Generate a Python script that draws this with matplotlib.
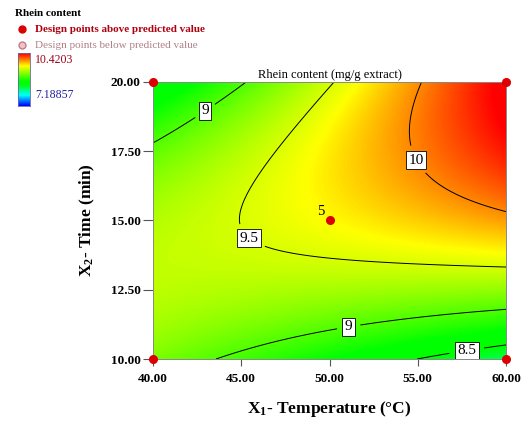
import numpy as np
import matplotlib
matplotlib.use("Agg")
import matplotlib.pyplot as plt
from matplotlib.colors import LinearSegmentedColormap, Normalize

# ---- data ----
temp_range = [40.0, 60.0]
time_range = [10.0, 20.0]
x_ticks = [40.0, 45.0, 50.0, 55.0, 60.0]
y_ticks = [10.0, 12.5, 15.0, 17.5, 20.0]
# quadratic response surface in coded units (A=temp, B=time)
coef_intercept = 9.6436
coef_A = 0.2837
coef_B = 0.3789
coef_AB = 0.7221
coef_A2 = 0.0044
coef_B2 = -0.5483
z_min = 7.18857
z_max = 10.4203
contour_levels = [8.5, 9.0, 9.5, 10.0]
design_temp = [40, 60, 40, 60, 50]
design_time = [20, 20, 10, 10, 15]
center_label = "5"

plt.rcParams['font.family'] = ['Liberation Serif', 'DejaVu Serif']
plt.rcParams['mathtext.fontset'] = 'custom'
plt.rcParams['mathtext.rm'] = 'Liberation Serif'
plt.rcParams['mathtext.bf'] = 'Liberation Serif:bold'

W, H = 528, 425
fig = plt.figure(figsize=(W/100, H/100), dpi=100)
ax = fig.add_axes([153/W, 1-359/H, 353/W, 277/H])

cmap = LinearSegmentedColormap.from_list(
    "dx", [(0, "#0000ff"), (0.2, "#00ffff"), (0.4, "#00ff00"),
           (0.47, "#00ff00"), (0.76, "#ffff00"), (1.0, "#ff0000")])
norm = Normalize(z_min, z_max)

T = np.linspace(temp_range[0], temp_range[1], 300)
t = np.linspace(time_range[0], time_range[1], 300)
TT, tt = np.meshgrid(T, t)
A = (TT - 50.0) / 10.0
B = (tt - 15.0) / 5.0
Z = (coef_intercept + coef_A*A + coef_B*B + coef_AB*A*B
     + coef_A2*A**2 + coef_B2*B**2)

ax.imshow(Z, extent=[temp_range[0], temp_range[1], time_range[0], time_range[1]],
          origin='lower', aspect='auto', cmap=cmap, norm=norm,
          interpolation='bilinear')
cs = ax.contour(TT, tt, Z, levels=contour_levels, colors='k', linewidths=0.7)
manual = [(42.8, 19.1), (55.0, 17.2), (46.0, 14.8), (51.0, 11.5), (57.7, 10.6)]
labels = ax.clabel(cs, fmt='%g', inline=True, fontsize=11, manual=manual,
                   inline_spacing=8)
for lb in labels:
    lb.set_bbox(dict(facecolor='white', edgecolor='black', linewidth=0.6,
                     pad=1.8))
    lb.set_rotation(0)

ax.plot(design_temp, design_time, 'o', color='#dd0000', markersize=5.5,
        clip_on=False, zorder=5)
ax.text(49.7, 15.1, center_label, ha='right', va='bottom', fontsize=10.5)

ax.set_xlim(temp_range)
ax.set_ylim(time_range)
ax.set_xticks(x_ticks)
ax.set_yticks(y_ticks)
ax.set_xticklabels([f"{v:.2f}" for v in x_ticks], fontweight='bold', fontsize=9.5)
ax.set_yticklabels([f"{v:.2f}" for v in y_ticks], fontweight='bold', fontsize=9.5)
ax.tick_params(axis='x', direction='out', length=5, width=0.8, color='#555555', pad=5)
ax.tick_params(axis='y', direction='out', length=7, width=0.8, color='#555555', pad=2)
for sp in ax.spines.values():
    sp.set_color('#888888')
    sp.set_linewidth(0.7)

ax.set_xlabel(r'$\mathbf{X_1}$- Temperature (°C)', fontsize=12.5,
              fontweight='bold', labelpad=10)
ax.set_ylabel(r'$\mathbf{X_2}$- Time (min)', fontsize=12.5,
              fontweight='bold', labelpad=10)
ax.set_title('Rhein content (mg/g extract)', fontsize=9, pad=3)

# legend block (top-left)
fig.text(15/W, 1-13/H, 'Rhein content', fontsize=8, fontweight='bold',
         va='center', ha='left')
fig.text(35/W, 1-29/H, 'Design points above predicted value', fontsize=8,
         fontweight='bold', color='#b00010', va='center', ha='left')
fig.text(35/W, 1-45/H, 'Design points below predicted value', fontsize=8,
         color='#b08088', va='center', ha='left')
lax = fig.add_axes([0, 0, 1, 1], facecolor='none')
lax.set_xlim(0, W)
lax.set_ylim(H, 0)
lax.axis('off')
lax.plot([22], [29], 'o', color='#dd0000', markersize=5)
lax.plot([22], [45], 'o', markerfacecolor='#f4c0c8', markeredgecolor='#c08088',
         markersize=5)

cax = fig.add_axes([18/W, 1-106/H, 12/W, 53/H])
grad = np.linspace(0, 1, 100).reshape(-1, 1)
cax.imshow(grad, origin='lower', aspect='auto', cmap=cmap)
cax.set_xticks([])
cax.set_yticks([])
for sp in cax.spines.values():
    sp.set_color('#6666aa')
    sp.set_linewidth(0.6)
fig.text(35/W, 1-60/H, '10.4203', fontsize=8.5, color='#a00018', va='center')
fig.text(35/W, 1-95/H, '7.18857', fontsize=8.5, color='#2020a0', va='center')

fig.savefig("out.png", dpi=100)
